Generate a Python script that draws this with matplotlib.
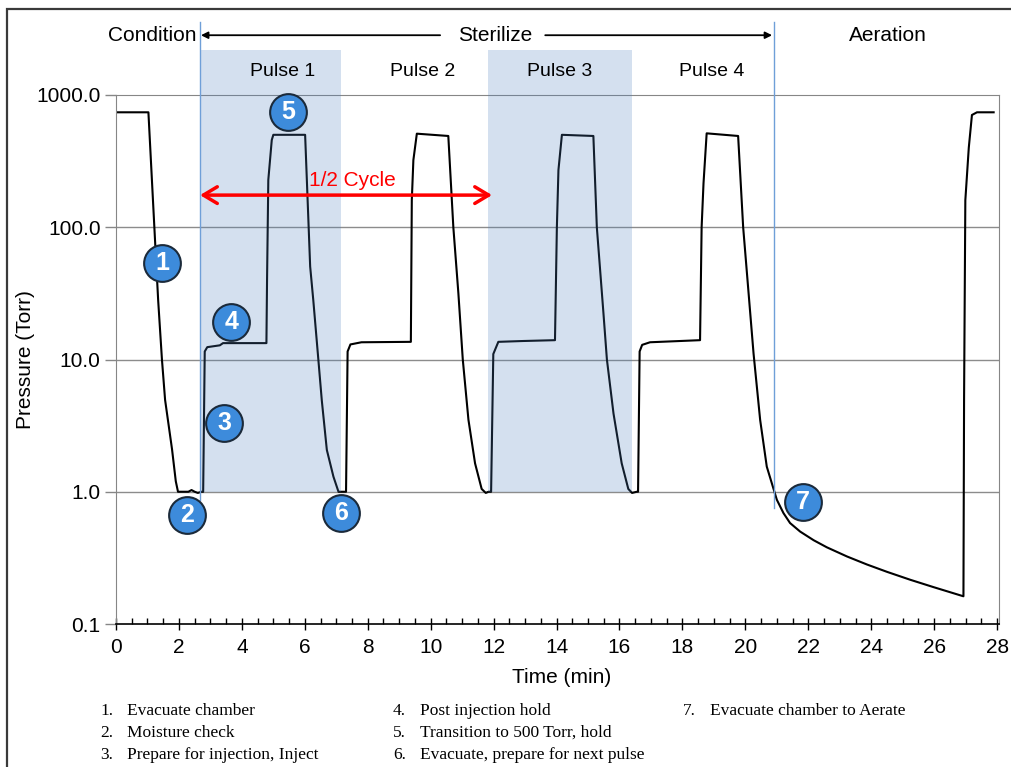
import matplotlib
matplotlib.use("Agg")
import matplotlib.pyplot as plt
import matplotlib.transforms as mtransforms
from matplotlib.patches import Rectangle
from matplotlib.ticker import MultipleLocator, NullLocator

# chamber pressure trace (min, Torr)
time_min = [
    0, 1.03, 1.24, 1.34, 1.46, 1.56, 1.78, 1.9, 1.97, 2.3, 2.4, 2.5, 2.6, 2.72,
    2.77, 2.82, 2.9, 3.3, 3.4, 4.78, 4.80, 4.84, 4.95, 5.0, 6.01, 6.17, 6.27, 6.43, 6.54, 6.70, 6.91, 7.07, 7.2, 7.28,
    7.31, 7.36, 7.45, 7.8, 9.37, 9.40, 9.45, 9.56, 10.56, 10.72, 10.88, 11.02, 11.2, 11.41, 11.62, 11.75, 11.84, 11.9,
    11.92, 11.99, 12.15, 12.94, 13.95, 14.01, 14.06, 14.17, 15.17, 15.28, 15.49, 15.6, 15.81, 16.07, 16.28, 16.4, 16.55,
    16.59, 16.64, 16.72, 16.97, 18.56, 18.61, 18.67, 18.77, 19.77, 19.93, 20.26, 20.47, 20.68, 21.0, 21.21, 21.42,
    21.74, 22.17, 22.59, 23.23, 23.86, 24.5, 25.24, 25.98, 26.93,
    26.95, 26.99, 27.1, 27.2, 27.36, 27.89,
]
pressure_torr = [
    740, 740, 80, 28, 10, 4.95, 2.1, 1.2, 1.0, 1.0, 1.03, 1.0, 0.98, 1.0,
    1.0, 11.5, 12.4, 12.8, 13.3, 13.3, 40, 228, 457, 500, 500, 50.5, 28, 10, 4.9, 2.07, 1.3, 1.0, 1.0, 1.0,
    1.0, 11.5, 13.0, 13.5, 13.6, 160, 322, 510, 490, 100, 31.7, 10, 3.5, 1.64, 1.05, 0.98, 1.0, 1.0,
    1.0, 11, 13.6, 13.8, 14, 100, 271, 500, 490, 100, 22.4, 10, 3.9, 1.64, 1.05, 0.98, 1.0,
    1.0, 11.5, 12.9, 13.5, 14, 100, 215, 513, 490, 100, 11.1, 3.49, 1.55, 0.87, 0.69, 0.58,
    0.50, 0.43, 0.38, 0.324, 0.282, 0.248, 0.216, 0.19, 0.162,
    5, 160, 400, 706, 740, 740,
]

pulse_labels = ["Pulse 1", "Pulse 2", "Pulse 3", "Pulse 4"]
pulse_label_x = [5.31, 9.73, 14.11, 18.94]
shaded_pulses = [(2.67, 7.15), (11.82, 16.4)]
phase_lines = [2.67, 20.92]

step_nums = ["1", "2", "3", "4", "5", "6", "7"]
step_x = [1.46, 2.26, 3.43, 3.66, 5.47, 7.15, 21.84]
step_y = [53.7, 0.668, 3.32, 19.2, 745, 0.694, 0.84]

notes = [
    "1.  Evacuate chamber", "2.  Moisture check", "3.  Prepare for injection, Inject",
    "4.  Post injection hold", "5.  Transition to 500 Torr, hold", "6.  Evacuate, prepare for next pulse",
    "7.  Evacuate chamber to Aerate",
]

plt.rcParams["font.family"] = ["Liberation Sans", "DejaVu Sans"]

W, H = 1012, 767
fig = plt.figure(figsize=(W / 100, H / 100), dpi=100)
ax = fig.add_axes([116 / W, 1 - 624 / H, (999 - 116) / W, (624 - 95) / H])

ax.plot(time_min, pressure_torr, color="black", lw=1.5, zorder=2)

ax.set_yscale("log")
ax.set_ylim(0.1, 1000)
ax.set_xlim(0, 28.06)
ax.set_yticks([0.1, 1, 10, 100, 1000])
ax.set_yticklabels(["0.1", "1.0", "10.0", "100.0", "1000.0"])
ax.yaxis.set_minor_locator(NullLocator())
ax.set_xticks(range(0, 29, 2))
ax.xaxis.set_minor_locator(MultipleLocator(0.5))
ax.tick_params(axis="x", which="major", direction="inout", length=8, width=1,
               labelsize=15, pad=6)
ax.tick_params(axis="x", which="minor", direction="in", length=4, width=1)
ax.tick_params(axis="y", which="major", direction="out", length=8, width=1,
               color="#868686", labelsize=15, pad=3)

for s in ["left", "top", "right"]:
    ax.spines[s].set_color("#868686")
ax.spines["bottom"].set_linewidth(1.2)
for g in [1, 10, 100]:
    ax.axhline(g, color="#8c8c8c", lw=1, zorder=1)

ax.text(-0.103, 0.5, "Pressure (Torr)", transform=ax.transAxes, rotation=90,
        ha="center", va="center", fontsize=15)
ax.text(0.505, -0.102, "Time (min)", transform=ax.transAxes,
        ha="center", va="center", fontsize=15)

trans = mtransforms.blended_transform_factory(ax.transData, ax.transAxes)

# shaded pulses, drawn over the trace
for x0, x1 in shaded_pulses:
    ax.add_patch(Rectangle((x0, 0.2495), x1 - x0, 1.085 - 0.2495, transform=trans,
                           facecolor="#4f81bd", alpha=0.24, edgecolor="none",
                           clip_on=False, zorder=3))
ax.plot([phase_lines[0]] * 2, [0.234, 1.138], transform=trans, color="#6f9fd8",
        lw=1, clip_on=False, zorder=3)
ax.plot([phase_lines[1]] * 2, [0.219, 1.138], transform=trans, color="#6f9fd8",
        lw=1, clip_on=False, zorder=3)

for lbl, x in zip(pulse_labels, pulse_label_x):
    ax.text(x, 1.0435, lbl, transform=trans, ha="center", va="center",
            fontsize=14, zorder=4)

ax.text(1.14, 1.113, "Condition", transform=trans, ha="center", va="center", fontsize=15)
ax.text(12.05, 1.113, "Sterilize", transform=trans, ha="center", va="center", fontsize=15)
ax.text(24.54, 1.113, "Aeration", transform=trans, ha="center", va="center", fontsize=15)
ax.annotate("", xy=(2.7, 1.113), xytext=(10.3, 1.113), xycoords=trans, textcoords=trans,
            arrowprops=dict(arrowstyle="-|>", color="black", lw=1.3, mutation_scale=10,
                            shrinkA=0, shrinkB=0), annotation_clip=False)
ax.annotate("", xy=(20.85, 1.113), xytext=(13.64, 1.113), xycoords=trans, textcoords=trans,
            arrowprops=dict(arrowstyle="-|>", color="black", lw=1.3, mutation_scale=10,
                            shrinkA=0, shrinkB=0), annotation_clip=False)

# half cycle arrow
ax.annotate("", xy=(2.67, 175), xytext=(11.95, 175),
            arrowprops=dict(arrowstyle="<->,head_length=0.5,head_width=0.3", color="red",
                            lw=2.5, mutation_scale=20, shrinkA=0, shrinkB=0), zorder=4)
ax.text(7.5, 224, "1/2 Cycle", color="red", ha="center", va="center", fontsize=15, zorder=4)

ax.scatter(step_x, step_y, s=700, facecolor="#3d8bdb", edgecolor="#1b2a3a",
           linewidth=1.5, zorder=5, clip_on=False)
for n, x, y in zip(step_nums, step_x, step_y):
    ax.text(x, y, n, color="white", fontsize=18, fontweight="bold",
            ha="center", va="center", zorder=6)

# footnotes
col_x = [100, 393, 683]
row_y = [711, 733, 755]
for i, note in enumerate(notes):
    c, r = divmod(i, 3)
    num, txt = note.split("  ", 1)
    fig.text(col_x[c] / W, 1 - row_y[r] / H, num, family=["Liberation Serif"],
             fontsize=12.5, va="center")
    fig.text((col_x[c] + 27) / W, 1 - row_y[r] / H, txt, family=["Liberation Serif"],
             fontsize=12.5, va="center")

fig.add_artist(Rectangle((7 / W, -0.1), 2, 1 - 9 / H + 0.1, transform=fig.transFigure,
                         fill=False, edgecolor="#3a3a3a", lw=1.6))

fig.savefig("out.png", dpi=100)
